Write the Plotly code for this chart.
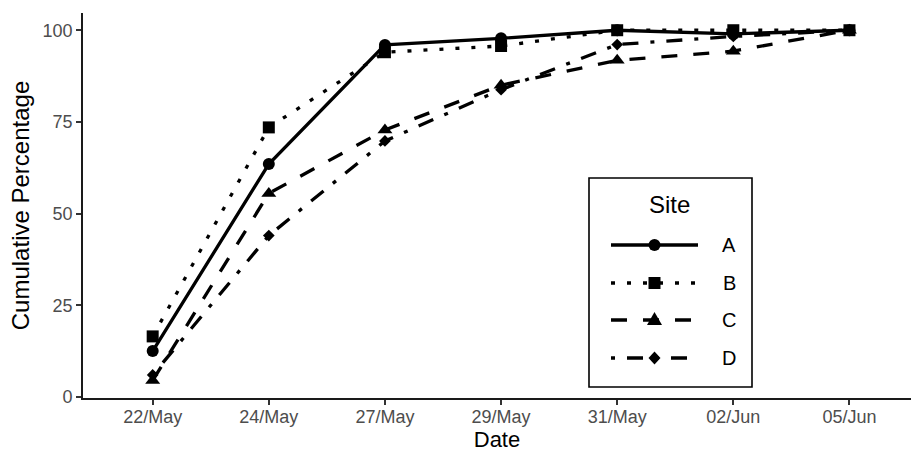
import plotly.graph_objects as go

# Sampling dates (categorical x axis)
dates = ["22/May", "24/May", "27/May", "29/May", "31/May", "02/Jun", "05/Jun"]

# Cumulative percentage per site
site_a = [12.5, 63.5, 96.0, 97.8, 100.0, 99.0, 100.0]
site_b = [16.5, 73.5, 94.0, 95.7, 100.0, 100.0, 100.0]
site_c = [4.5, 55.5, 72.8, 85.0, 91.8, 94.3, 100.0]
site_d = [6.0, 44.0, 69.8, 83.8, 96.1, 98.3, 100.0]

site_names = ["A", "B", "C", "D"]
y_ticks = [0, 25, 50, 75, 100]

# Figure geometry (pixels)
W, H = 911, 452
ML, MR, MT, MB = 83, 0, 13, 54

LINE_W = 3.3
styles = {
    "A": dict(dash="solid", symbol="circle", size=12, shape="circle"),
    "B": dict(dash="4px,12px", symbol="square", size=12, shape="square"),
    "C": dict(dash="16px,16px", symbol="triangle-up", size=13, shape="triangle"),
    "D": dict(dash="4px,12px,16px,12px", symbol="diamond", size=9, shape="diamond"),
}

fig = go.Figure()
for name, vals in zip(site_names, [site_a, site_b, site_c, site_d]):
    st = styles[name]
    fig.add_trace(go.Scatter(
        x=dates, y=vals, name=name, mode="lines+markers",
        line=dict(color="black", width=LINE_W, dash=st["dash"]),
        marker=dict(color="black", symbol=st["symbol"], size=st["size"],
                    line=dict(width=0)),
        showlegend=False,
    ))


def px_x(px):
    return (px - ML) / (W - ML - MR)


def px_y(py):
    return (H - MB - py) / (H - MT - MB)


# Legend panel drawn in paper coordinates
shapes = [dict(type="rect", xref="paper", yref="paper",
               x0=px_x(589), x1=px_x(752), y0=px_y(387), y1=px_y(178),
               line=dict(color="black", width=1.6), fillcolor="white",
               layer="above")]
annotations = [dict(text="Site", xref="paper", yref="paper",
                    x=px_x(669), y=px_y(204), showarrow=False,
                    xanchor="center", yanchor="middle",
                    font=dict(size=24, color="black"))]

marker_paths = {
    "triangle": "M -7.5 -5 L 7.5 -5 L 0 8 Z",
    "diamond": "M -6 0 L 0 6.5 L 6 0 L 0 -6.5 Z",
}

rows = [245, 283, 320, 358]
key_x0, key_x1, key_mid, label_x = 611, 698, 654.5, 729
for name, row in zip(site_names, rows):
    st = styles[name]
    yp = px_y(row)
    shapes.append(dict(type="line", xref="paper", yref="paper",
                       x0=px_x(key_x0), x1=px_x(key_x1), y0=yp, y1=yp,
                       line=dict(color="black", width=LINE_W, dash=st["dash"]),
                       layer="above"))
    common = dict(xref="paper", yref="paper", xsizemode="pixel",
                  ysizemode="pixel", xanchor=px_x(key_mid), yanchor=yp,
                  fillcolor="black", line=dict(width=0), layer="above")
    if st["shape"] == "circle":
        shapes.append(dict(type="circle", x0=-6, x1=6, y0=-6, y1=6, **common))
    elif st["shape"] == "square":
        shapes.append(dict(type="rect", x0=-6, x1=6, y0=-6, y1=6, **common))
    else:
        shapes.append(dict(type="path", path=marker_paths[st["shape"]], **common))
    annotations.append(dict(text=name, xref="paper", yref="paper",
                            x=px_x(label_x), y=yp, showarrow=False,
                            xanchor="center", yanchor="middle",
                            font=dict(size=20, color="black")))

axis_common = dict(
    showline=True, linecolor="#1a1a1a", linewidth=1.6,
    ticks="outside", ticklen=5, tickwidth=1.5, tickcolor="#333333",
    showgrid=False, zeroline=False,
    tickfont=dict(size=18, color="#4d4d4d"),
)

fig.update_layout(
    width=W, height=H,
    margin=dict(l=ML, r=MR, t=MT, b=MB),
    paper_bgcolor="white", plot_bgcolor="white",
    font=dict(family="Liberation Sans, Arial, sans-serif"),
    xaxis=dict(type="category", range=[-0.6, 6.53],
               categoryorder="array", categoryarray=dates,
               ticklabelstandoff=-3,
               title=dict(text="Date", font=dict(size=22, color="black"),
                          standoff=3),
               **axis_common),
    yaxis=dict(range=[-0.3, 104.7], tickvals=y_ticks,
               title=dict(text="Cumulative Percentage",
                          font=dict(size=24, color="black"), standoff=6),
               **axis_common),
    shapes=shapes,
    annotations=annotations,
    showlegend=False,
)

fig.write_html("out.html")
